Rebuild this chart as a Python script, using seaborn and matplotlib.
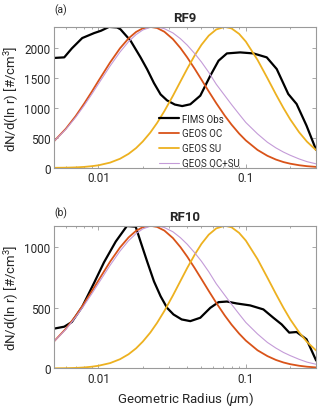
import matplotlib
matplotlib.use('Agg')
import matplotlib.pyplot as plt
import seaborn as sns

# model radii (um) and GEOS size distributions
radius = [0.005, 0.006, 0.007, 0.008, 0.009, 0.01, 0.012, 0.014, 0.016, 0.018, 0.02,
          0.0225, 0.025, 0.028, 0.032, 0.036, 0.04, 0.045, 0.05, 0.056, 0.063, 0.072,
          0.08, 0.09, 0.1, 0.12, 0.14, 0.16, 0.18, 0.2, 0.23, 0.26, 0.3]

oc_rf9 = [448, 654, 866, 1076, 1273, 1456, 1765, 2001, 2167, 2275, 2336,
          2360, 2341, 2279, 2155, 2006, 1850, 1658, 1477, 1281, 1083, 873,
          724, 575, 460, 301, 203, 140, 98, 71, 45, 29, 17]
su_rf9 = [2, 4, 9, 17, 29, 44, 89, 153, 235, 332, 443,
          593, 753, 950, 1206, 1446, 1659, 1883, 2060, 2213, 2317, 2360,
          2334, 2243, 2114, 1808, 1503, 1231, 1002, 813, 596, 439, 296]
ocsu_rf9 = [447, 644, 846, 1044, 1231, 1406, 1706, 1939, 2112, 2231, 2308,
            2353, 2358, 2330, 2259, 2162, 2055, 1913, 1772, 1600, 1400, 1210,
            1060, 900, 760, 570, 430, 335, 265, 212, 150, 105, 68]

oc_rf10 = [224, 327, 433, 538, 637, 728, 883, 1000, 1083, 1138, 1168,
           1180, 1170, 1140, 1078, 1003, 925, 829, 739, 641, 542, 437,
           362, 288, 230, 150, 102, 70, 49, 35, 22, 14, 8]
su_rf10 = [1, 2, 4, 8, 14, 22, 44, 76, 117, 166, 222,
           297, 377, 475, 603, 723, 830, 941, 1030, 1106, 1158, 1180,
           1167, 1121, 1057, 904, 751, 616, 501, 406, 298, 219, 148]
ocsu_rf10 = [223, 322, 423, 522, 616, 703, 853, 970, 1056, 1115, 1154,
             1176, 1179, 1165, 1130, 1081, 1027, 956, 886, 800, 700, 605,
             530, 450, 380, 285, 215, 168, 132, 106, 75, 52, 34]

# FIMS observations
fims_r_rf9 = [0.005, 0.00586, 0.0066, 0.00776, 0.00934, 0.0104, 0.0118, 0.0134, 0.0141,
              0.0165, 0.0193, 0.0214, 0.0238, 0.0264, 0.0292, 0.033, 0.037, 0.042,
              0.0491, 0.0574, 0.0653, 0.0744, 0.0915, 0.1125, 0.1386, 0.162, 0.194,
              0.221, 0.258, 0.3]
fims_rf9 = [1840, 1850, 2000, 2173, 2256, 2295, 2360, 2350, 2320,
            2130, 1850, 1650, 1420, 1230, 1130, 1060, 1035, 1065,
            1209, 1543, 1794, 1916, 1933, 1916, 1850, 1655, 1237,
            1070, 708, 300]

fims_r_rf10 = [0.005, 0.00586, 0.0066, 0.00776, 0.00934, 0.0109, 0.0131, 0.0156, 0.0179,
               0.0193, 0.0214, 0.0238, 0.0264, 0.0292, 0.0323, 0.0367, 0.042, 0.0491,
               0.0574, 0.0653, 0.0744, 0.0869, 0.107, 0.1315, 0.1537, 0.175, 0.197,
               0.221, 0.258, 0.3]
fims_rf10 = [329, 345, 384, 510, 707, 877, 1049, 1178, 1172,
             1049, 884, 720, 597, 501, 446, 405, 391, 419,
             501, 548, 553, 537, 521, 488, 419, 364, 296,
             301, 241, 65]

sns.set_style('ticks')
plt.rcParams['font.family'] = ['Roboto', 'DejaVu Sans']
plt.rcParams['mathtext.fontset'] = 'custom'
plt.rcParams['mathtext.rm'] = 'Roboto'
plt.rcParams['mathtext.it'] = 'Roboto:italic'

c_oc = '#D95319'
c_su = '#EDB120'
c_mix = '#C49BD8'
edge = '#9a9a9a'
txt = '#262626'

fig = plt.figure(figsize=(3.2, 4.1), dpi=100)
ax1 = fig.add_axes([0.169, 0.588, 0.819, 0.344])
ax2 = fig.add_axes([0.169, 0.099, 0.819, 0.348])

panels = [
    (ax1, fims_r_rf9, fims_rf9, oc_rf9, su_rf9, ocsu_rf9, 'RF9', '(a)', 1.128, 2360, [0, 500, 1000, 1500, 2000]),
    (ax2, fims_r_rf10, fims_rf10, oc_rf10, su_rf10, ocsu_rf10, 'RF10', '(b)', 1.094, 1180, [0, 500, 1000]),
]

for ax, fr, fv, oc, su, mix, title, tag, tag_y, ymax, yt in panels:
    sns.lineplot(x=fr, y=fv, ax=ax, color='black', lw=1.6, label='FIMS Obs')
    sns.lineplot(x=radius, y=oc, ax=ax, color=c_oc, lw=1.3, label='GEOS OC')
    sns.lineplot(x=radius, y=su, ax=ax, color=c_su, lw=1.3, label='GEOS SU')
    sns.lineplot(x=radius, y=mix, ax=ax, color=c_mix, lw=0.8, label='GEOS OC+SU')
    ax.set_xscale('log')
    ax.set_xlim(0.005, 0.3)
    ax.set_ylim(0, ymax)
    ax.set_yticks(yt)
    ax.set_xticks([0.01, 0.1])
    ax.set_xticklabels(['0.01', '0.1'])
    ax.tick_params(which='both', direction='in', colors=edge, labelcolor=txt, labelsize=8.5,
                   top=True, right=True, width=0.6, pad=2.5)
    ax.tick_params(which='major', length=3)
    ax.tick_params(which='minor', length=1.5)
    for s in ax.spines.values():
        s.set_color(edge)
        s.set_linewidth(0.8)
    ax.set_title(title, fontsize=9.5, fontweight='bold', color=txt, pad=4)
    ax.text(0.0, tag_y, tag, transform=ax.transAxes, fontsize=7.5, color=txt, ha='left', va='center')
    ax.set_ylabel('dN/d(ln r) [#/cm$^3$]', fontsize=9.5, color=txt, labelpad=2)
    ax.set_xlabel('')

ax1.legend(loc='lower left', bbox_to_anchor=(0.375, -0.05), frameon=False, fontsize=7,
           handlelength=2.0, handletextpad=0.3, labelspacing=0.5, borderpad=0.2)
ax2.get_legend().remove()
ax2.set_xlabel('Geometric Radius ($\\mu$m)', fontsize=9.5, color=txt, labelpad=3)

fig.savefig('out.png', dpi=100)
